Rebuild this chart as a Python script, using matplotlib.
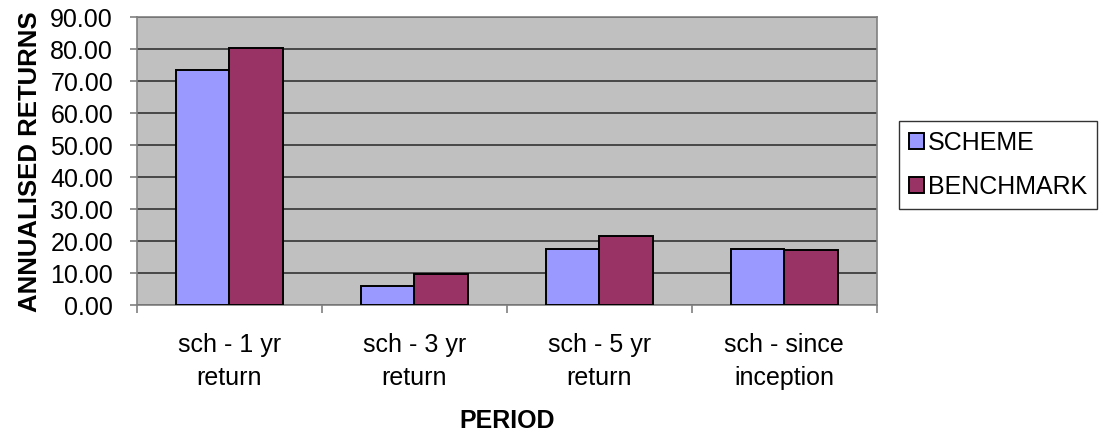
import numpy as np
import matplotlib
matplotlib.use('Agg')
from matplotlib import pyplot as plt
from matplotlib.ticker import FixedLocator

plt.rcParams['font.family'] = ['Liberation Sans', 'DejaVu Sans']

categories = ['sch - 1 yr\nreturn', 'sch - 3 yr\nreturn', 'sch - 5 yr\nreturn', 'sch - since\ninception']
scheme = [73.5, 6.1, 17.5, 17.5]
benchmark = [80.4, 9.8, 21.7, 17.4]
yticks = [0, 10, 20, 30, 40, 50, 60, 70, 80, 90]

fig = plt.figure(figsize=(11.05, 4.38), dpi=100)
ax = fig.add_axes([0.1237, 0.303, 0.6697, 0.6575])
ax.set_facecolor('#C0C0C0')

x = np.arange(len(categories))
w = 0.29
ax.bar(x - w / 2, scheme, w, color='#9999FF', edgecolor='black', linewidth=1.4, label='SCHEME', zorder=3)
ax.bar(x + w / 2, benchmark, w, color='#993366', edgecolor='black', linewidth=1.4, label='BENCHMARK', zorder=3)

ax.set_xlim(-0.5, len(categories) - 0.5)
ax.set_ylim(0, 90)
ax.set_yticks(yticks)
ax.set_yticklabels(['%.2f' % v for v in yticks], fontsize=18)
ax.yaxis.grid(True, color='#333333', linewidth=1.2, zorder=1)
ax.set_axisbelow(True)

ax.set_xticks(x)
ax.set_xticklabels(categories, fontsize=18, linespacing=1.45)
ax.tick_params(axis='x', length=0, pad=20)
ax.xaxis.set_minor_locator(FixedLocator(np.arange(-0.5, len(categories), 1)))
ax.tick_params(axis='x', which='minor', length=6, color='#808080', width=1.2)
ax.tick_params(axis='y', length=5, color='#808080', width=1.2, pad=12)

for s in ax.spines.values():
    s.set_color('#808080')
    s.set_linewidth(1.2)

ax.set_xlabel('PERIOD', fontsize=18, fontweight='bold', labelpad=14)
ax.set_ylabel('ANNUALISED RETURNS', fontsize=18.5, fontweight='bold', labelpad=6)

leg = ax.legend(loc='upper left', bbox_to_anchor=(1.03, 0.64), fontsize=18, frameon=True,
                fancybox=False, edgecolor='black', handlelength=0.6, handleheight=0.6,
                handletextpad=0.15, labelspacing=0.8, borderpad=0.4, borderaxespad=0)
leg.get_frame().set_linewidth(1.0)

fig.savefig('out.png', dpi=100)
